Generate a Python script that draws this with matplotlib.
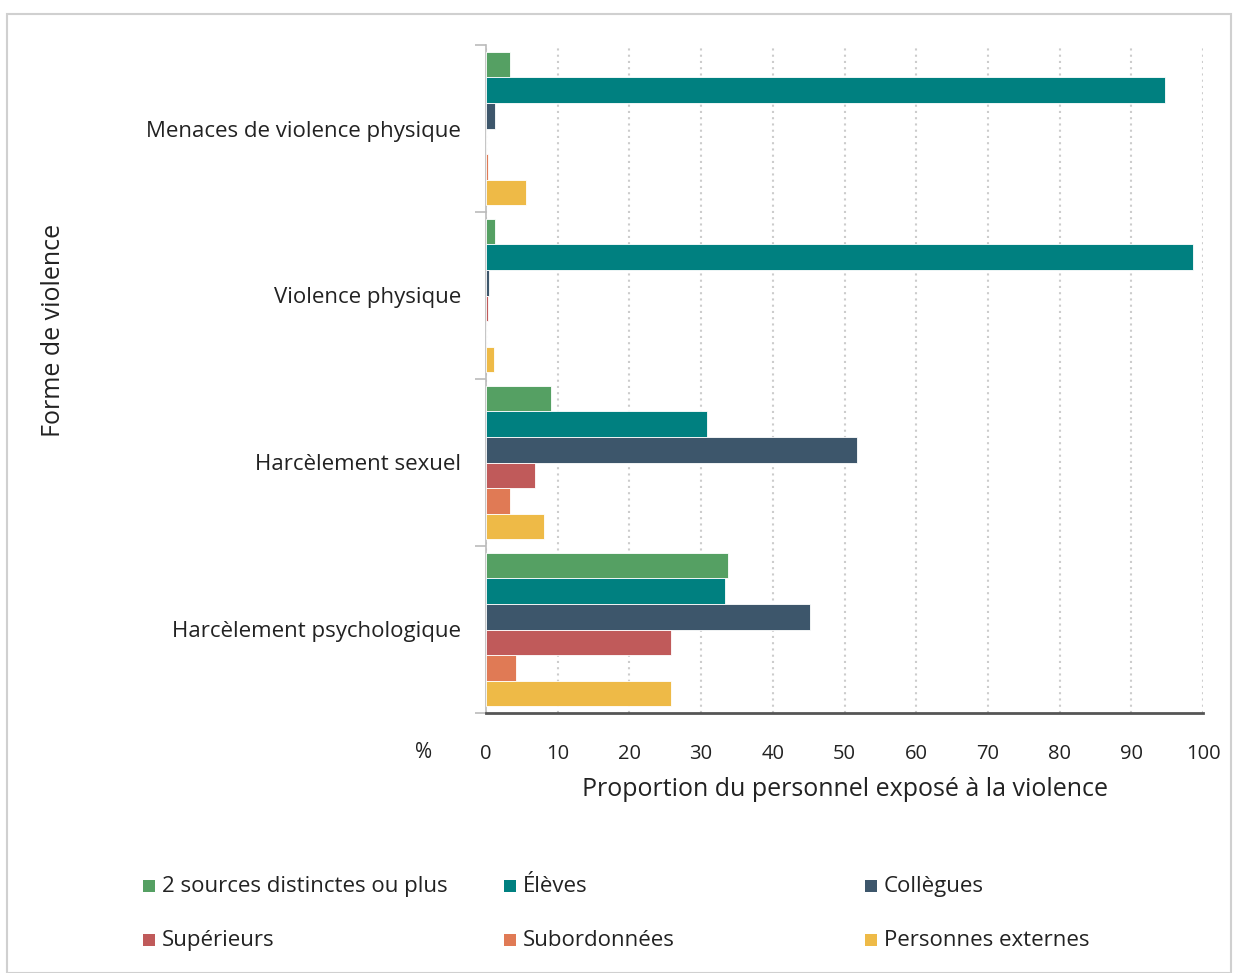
import numpy as np
import matplotlib.pyplot as plt
from matplotlib.patches import Rectangle

plt.rcParams['font.family'] = ['Open Sans', 'DejaVu Sans']

# Données
categories = ['Menaces de violence physique', 'Violence physique',
              'Harcèlement sexuel', 'Harcèlement psychologique']
sources = ['2 sources distinctes ou plus', 'Élèves', 'Collègues',
           'Supérieurs', 'Subordonnées', 'Personnes externes']
deux_sources = [3.3, 1.3, 9.0, 33.8]
eleves = [94.7, 98.6, 30.8, 33.3]
collegues = [1.3, 0.4, 51.7, 45.2]
superieurs = [0.0, 0.3, 6.9, 25.8]
subordonnees = [0.3, 0.0, 3.4, 4.2]
externes = [5.6, 1.1, 8.1, 25.8]
x_ticks = [0, 10, 20, 30, 40, 50, 60, 70, 80, 90, 100]

series = [deux_sources, eleves, collegues, superieurs, subordonnees, externes]
colors = ['#55a063', '#008080', '#3d566b', '#c05a5a', '#e07a55', '#eeba47']

W, H = 1238, 973
fig = plt.figure(figsize=(W / 100, H / 100), dpi=100)
ax = fig.add_axes([486 / W, 1 - 713 / H, (1203 - 486) / W, (713 - 45) / H])

n = len(series)
bar_h = 0.92 / n
ypos = np.arange(len(categories))
for i, (vals, col) in enumerate(zip(series, colors)):
    offs = -0.46 + bar_h * (i + 0.5)
    ax.barh(ypos + offs, vals, height=bar_h, color=col, edgecolor='white',
            linewidth=0.6, label=sources[i], zorder=3)

ax.set_ylim(len(categories) - 0.5, -0.5)
ax.set_xlim(0, 100)
ax.set_xticks(x_ticks)
ax.set_xticklabels([str(t) for t in x_ticks], fontsize=14.5, color='#222222')
ax.tick_params(axis='x', length=0, pad=22)

ax.set_yticks(ypos)
ax.set_yticklabels(categories, fontsize=16, color='#222222')
ax.tick_params(axis='y', length=0, pad=18)
ax.set_yticks(np.arange(len(categories) + 1) - 0.5, minor=True)
ax.tick_params(axis='y', which='minor', length=8, color='#bbbbbb', width=1.2)

ax.grid(axis='x', linestyle=(0, (1, 2)), color='#cccccc', linewidth=1.5, zorder=0)
for s in ['top', 'right']:
    ax.spines[s].set_visible(False)
ax.spines['left'].set_color('#bbbbbb')
ax.spines['left'].set_linewidth(1.2)
ax.spines['bottom'].set_color('#555555')
ax.spines['bottom'].set_linewidth(2)

fig.text(424 / W, 1 - 753 / H, '%', fontsize=15, color='#222222',
         ha='center', va='center')
fig.text(845 / W, 1 - 789 / H, 'Proportion du personnel exposé à la violence',
         fontsize=18, color='#222222', ha='center', va='center')
fig.text(54 / W, 1 - 330 / H, 'Forme de violence', fontsize=18,
         color='#222222', rotation=90, ha='center', va='center')

# légende : 2 lignes x 3 colonnes, dessinée à la main pour l'alignement
col_x = [143, 504, 865]
row_y = [886, 940]
sq = 12
for k in range(len(sources)):
    r, c = divmod(k, 3)
    x0, yc = col_x[c], row_y[r]
    fig.patches.append(Rectangle((x0 / W, 1 - (yc + sq / 2) / H), sq / W, sq / H,
                                 transform=fig.transFigure, facecolor=colors[k],
                                 edgecolor='none'))
    fig.text((x0 + sq + 7) / W, 1 - (yc + 6) / H, sources[k], fontsize=16,
             color='#222222', ha='left', va='baseline')

fig.patches.append(Rectangle((7 / W, 0), 1 - 14 / W, 1 - 14 / H,
                             transform=fig.transFigure, fill=False,
                             edgecolor='#d0d0d0', linewidth=1.5))

fig.savefig('out.png', dpi=100)
